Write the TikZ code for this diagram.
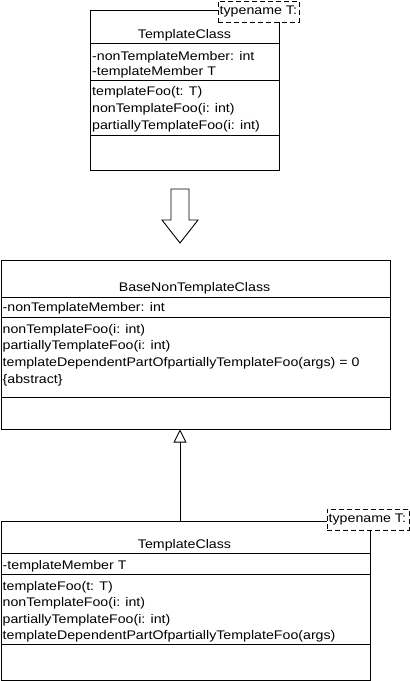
\documentclass[tikz,border=0pt]{standalone}
\usepackage{fontspec}
\newfontfamily\umlfont[FakeStretch=1.135]{Liberation Sans}
\usetikzlibrary{arrows.meta}
\tikzset{
  classbox/.style={draw, line width=0.9pt, inner sep=0pt, anchor=north west},
  sep/.style={line width=0.9pt},
  txt/.style={anchor=west, inner sep=0pt, font=\umlfont\fontsize{12.5}{15}\selectfont},
  ttl/.style={anchor=center, inner sep=0pt, font=\umlfont\fontsize{12.5}{15}\selectfont},
  tmpl/.style={draw, dashed, dash pattern=on 5pt off 3pt, line width=0.9pt, fill=white, inner sep=0pt, anchor=north west},
  conn/.style={line width=0.9pt}
}
\begin{document}
\begin{tikzpicture}[x=1pt,y=-1pt]
\useasboundingbox (0,0) rectangle (410,681);
% ---------- top TemplateClass ----------
\node[classbox, minimum width=189pt, minimum height=160pt] (top) at (90,10) {};
\draw[sep] (90,43) -- (279,43);
\draw[sep] (90,80) -- (279,80);
\draw[sep] (90,135) -- (279,135);
\node[ttl] (topname) at (184.5,35) {TemplateClass};
\node[txt] (topa1) at (92,57) {-nonTemplateMember: int};
\node[txt] (topa2) at (92,72) {-templateMember T};
\node[txt] (topm1) at (92,92) {templateFoo(t: T)};
\node[txt] (topm2) at (92,109.5) {nonTemplateFoo(i: int)};
\node[txt] (topm3) at (92,126.5) {partiallyTemplateFoo(i: int)};
\node[tmpl, minimum width=81pt, minimum height=21pt] (toptp) at (218,1) {};
\begin{scope}
\clip (218,1) rectangle (298,22);
\node[txt] (toptpt) at (219.5,11.5) {typename T:};
\end{scope}
% ---------- big hollow arrow ----------
\draw[conn, line join=miter] (171,189) -- (189,189) -- (189,220) -- (198,220) -- (180,243) -- (162,220) -- (171,220) -- cycle;
% ---------- BaseNonTemplateClass ----------
\node[classbox, minimum width=389pt, minimum height=169pt] (base) at (0.5,260) {};
\draw[sep] (0.5,297) -- (389.5,297);
\draw[sep] (0.5,317) -- (389.5,317);
\draw[sep] (0.5,397) -- (389.5,397);
\node[ttl] (basename) at (194.5,288.5) {BaseNonTemplateClass};
\node[txt] (basea1) at (2.5,308) {-nonTemplateMember: int};
\node[txt] (basem1) at (2.5,330) {nonTemplateFoo(i: int)};
\node[txt] (basem2) at (2.5,346.5) {partiallyTemplateFoo(i: int)};
\node[txt] (basem3) at (2.5,363.5) {templateDependentPartOfpartiallyTemplateFoo(args) = 0};
\node[txt] (basem4) at (2.5,380) {\{abstract\}};
% ---------- bottom TemplateClass ----------
\node[classbox, minimum width=369pt, minimum height=159pt] (bot) at (0.5,521) {};
\draw[sep] (0.5,553) -- (369.5,553);
\draw[sep] (0.5,574) -- (369.5,574);
\draw[sep] (0.5,644) -- (369.5,644);
\node[ttl] (botname) at (184.5,545.5) {TemplateClass};
\node[txt] (bota1) at (2.5,566.5) {-templateMember T};
\node[txt] (botm1) at (2.5,587) {templateFoo(t: T)};
\node[txt] (botm2) at (2.5,603.5) {nonTemplateFoo(i: int)};
\node[txt] (botm3) at (2.5,620) {partiallyTemplateFoo(i: int)};
\node[txt] (botm4) at (2.5,636.5) {templateDependentPartOfpartiallyTemplateFoo(args)};
\node[tmpl, minimum width=82pt, minimum height=21pt] (bottp) at (327,509) {};
\begin{scope}
\clip (327,509) rectangle (408,530);
\node[txt] (bottpt) at (328.5,519.5) {typename T:};
\end{scope}
% ---------- inheritance ----------
\coordinate (inhS) at (180,521);
\coordinate (inhE) at (180,429.5);
\draw[conn, -{Triangle[open, length=13pt, width=13pt]}] (inhS) -- (inhE);
\end{tikzpicture}
\end{document}
